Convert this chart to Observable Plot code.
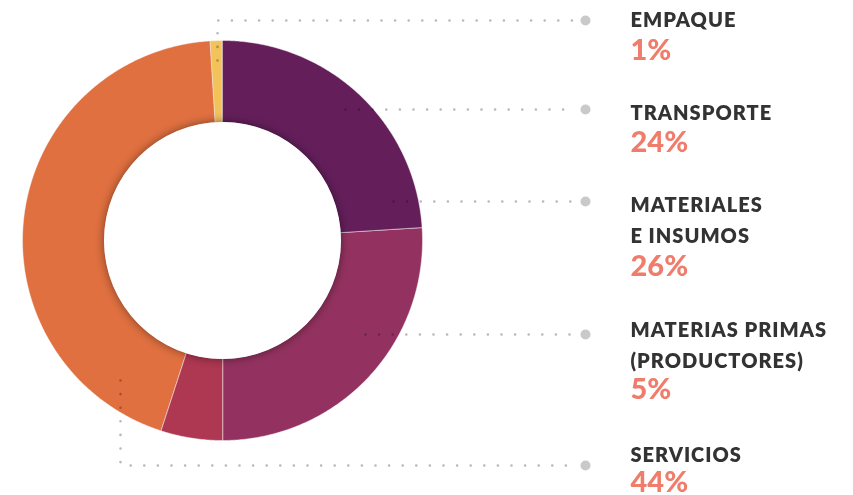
<!DOCTYPE html>
<html><head><meta charset="utf-8">
<script src="https://cdn.jsdelivr.net/npm/d3@7"></script>
<script src="https://cdn.jsdelivr.net/npm/@observablehq/plot@0.6"></script>
<style>body{margin:0;background:#fff} svg{display:block}</style>
</head><body><div id="chart"></div>
<script>
// ---- data ----
const categories = ["EMPAQUE", "TRANSPORTE", "MATERIALES\nE INSUMOS", "MATERIAS PRIMAS\n(PRODUCTORES)", "SERVICIOS"];
const values = [1, 24, 26, 5, 44];
const valueLabels = ["1%", "24%", "26%", "5%", "44%"];
const colors = ["#F2C25B", "#641F5B", "#933260", "#AE3751", "#E07040"];

// ---- layout (pixels) ----
const W = 853, H = 495, cx = 222, cy = 240, R = 200, R0 = 118;
const labelX = 630, dotX = 585, leaderEndX = 575;
const dotY = [20, 109, 201, 334, 465];
const titleY = [4, 97, 189, 314, 439];
const pctY = [39, 131, 255, 378, 471];
const leaderPaths = [
  [[217, 60], [217, 20], [leaderEndX, 20]],
  [[345, 109], [leaderEndX, 109]],
  [[393, 201], [leaderEndX, 201]],
  [[365, 334], [leaderEndX, 334]],
  [[120, 380], [120, 465], [leaderEndX, 465]]
];

// ---- slices via d3.pie ----
const total = d3.sum(values);
const start = -2 * Math.PI * values[0] / total;
const arcs = d3.pie().sort(null).value(d => d).startAngle(start).endAngle(start + 2 * Math.PI)(values);
const slicePts = [];
arcs.forEach((a, i) => {
  const n = Math.max(2, Math.ceil((a.endAngle - a.startAngle) / (Math.PI / 360)));
  const cat = categories[i];
  for (let k = 0; k <= n; k++) {
    const t = a.startAngle + (a.endAngle - a.startAngle) * k / n;
    slicePts.push({cat, x: cx + R * Math.sin(t), y: cy - R * Math.cos(t)});
  }
  for (let k = n; k >= 0; k--) {
    const t = a.startAngle + (a.endAngle - a.startAngle) * k / n;
    slicePts.push({cat, x: cx + R0 * Math.sin(t), y: cy - R0 * Math.cos(t)});
  }
});

const leaderPts = leaderPaths.flatMap((p, i) => p.map(([x, y]) => ({i, x, y})));

const plot = Plot.plot({
  width: W, height: H,
  margin: 0,
  x: {domain: [0, W], range: [0, W], axis: null},
  y: {domain: [0, H], range: [0, H], axis: null},
  color: {domain: categories, range: colors},
  style: {background: "#fff", overflow: "visible"},
  marks: [
    Plot.line(slicePts, {x: "x", y: "y", z: "cat", fill: "cat", stroke: "rgba(255,255,255,0.45)", strokeWidth: 1, curve: "linear-closed"}),
    Plot.dot([{x: cx, y: cy}], {x: "x", y: "y", r: R0 + 0.5, fill: "#fff", stroke: "none"}),
    Plot.line(leaderPts, {x: "x", y: "y", z: "i", stroke: "#b8b8b8", strokeWidth: 2.6, strokeDasharray: "0 13.6", strokeLinecap: "round", mixBlendMode: "multiply"}),
    Plot.dot(dotY, {x: () => dotX, y: d => d, r: 5, fill: "#c9c9c9", stroke: "none"}),
    Plot.text(categories, {x: () => labelX, y: (d, i) => titleY[i], text: d => d, textAnchor: "start", lineAnchor: "top", fontSize: 20, fontWeight: 800, fontFamily: "Lato", fill: "#333333", lineHeight: 1.55}),
    Plot.text(valueLabels, {x: () => labelX, y: (d, i) => pctY[i], text: d => d, textAnchor: "start", lineAnchor: "top", fontSize: 29, fontWeight: 900, fontFamily: "Lato", fill: "#F07D6B"})
  ]
});
document.getElementById("chart").appendChild(plot);

// inner shadow cast by the white hole
const dots = plot.querySelectorAll('g[aria-label="dot"]');
if (dots[0]) dots[0].style.filter = "drop-shadow(0 0 5px rgba(0,0,0,0.45))";
const texts = plot.querySelectorAll('g[aria-label="text"]');
if (texts[0]) texts[0].setAttribute("letter-spacing", "1");
</script>
</body></html>
